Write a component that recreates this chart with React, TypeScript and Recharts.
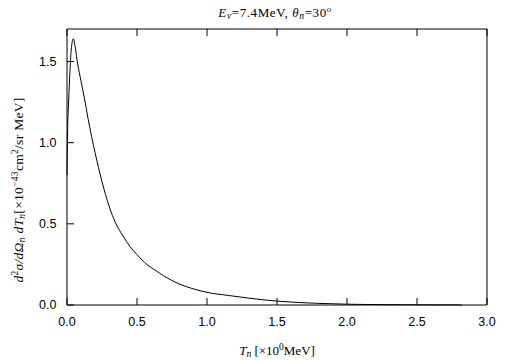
import { LineChart, Line, XAxis, YAxis } from "recharts";

// neutron kinetic energy T_n [MeV]
const tn = [
  0, 0.005, 0.01, 0.02, 0.03, 0.045, 0.06, 0.075, 0.1, 0.125, 0.15, 0.175,
  0.2, 0.25, 0.3, 0.35, 0.4, 0.45, 0.5, 0.57, 0.62, 0.69, 0.8, 0.9, 1.0,
  1.16, 1.3, 1.5, 1.8, 2.0, 2.3, 2.6, 2.82,
];
// d2sigma / dOmega dT  [1e-43 cm2/sr MeV]
const xsec = [
  0.8, 1.1, 1.22, 1.42, 1.57, 1.64, 1.58, 1.49, 1.38, 1.27, 1.15, 1.04,
  0.94, 0.76, 0.61, 0.5, 0.425, 0.36, 0.31, 0.25, 0.22, 0.18, 0.13, 0.1,
  0.078, 0.058, 0.042, 0.024, 0.01, 0.005, 0.002, 0.001, 0,
];

const xTicks = [0, 0.5, 1, 1.5, 2, 2.5, 3];
const yTicks = [0, 0.5, 1, 1.5];

const data = tn.map((t, i) => ({ tn: t, xs: xsec[i] }));

const tickFont = { fontFamily: "'Liberation Sans', Arial, sans-serif", fontSize: 12.5, fill: "#000" };
const serif = "'Liberation Serif', 'Times New Roman', serif";
const fmt = (v: number) => v.toFixed(1);

export default function App() {
  return (
    <div style={{ position: "absolute", left: 0, top: 0, width: 505, height: 361, background: "#fff" }}>
      <LineChart width={505} height={361} data={data} margin={{ top: 29, right: 18, bottom: 56, left: 67 }}>
        <XAxis
          xAxisId="b"
          dataKey="tn"
          type="number"
          domain={[0, 3]}
          ticks={xTicks}
          interval={0}
          height={1}
          mirror
          tickSize={7}
          tickMargin={-28}
          stroke="#000"
          tickFormatter={fmt}
          tick={tickFont}
        />
        <XAxis
          xAxisId="t"
          orientation="top"
          dataKey="tn"
          type="number"
          domain={[0, 3]}
          ticks={xTicks}
          interval={0}
          height={1}
          mirror
          tickSize={7}
          stroke="#000"
          tickFormatter={() => ""}
        />
        <YAxis
          yAxisId="l"
          type="number"
          domain={[0, 1.7]}
          ticks={yTicks}
          interval={0}
          width={1}
          mirror
          tickSize={7}
          tickMargin={-17.5}
          stroke="#000"
          tickFormatter={fmt}
          tick={{ ...tickFont, textAnchor: "end" }}
        />
        <YAxis
          yAxisId="r"
          orientation="right"
          type="number"
          domain={[0, 1.7]}
          ticks={yTicks}
          interval={0}
          width={1}
          mirror
          tickSize={7}
          stroke="#000"
          tickFormatter={() => ""}
        />
        <Line
          xAxisId="b"
          yAxisId="l"
          dataKey="xs"
          type="monotone"
          stroke="#000"
          strokeWidth={1}
          dot={false}
          isAnimationActive={false}
        />
      </LineChart>
      <svg width={505} height={361} style={{ position: "absolute", left: 0, top: 0, pointerEvents: "none" }}>
        <text x={275} y={17} textAnchor="middle" fontFamily={serif} fontSize={13} letterSpacing={0.6} fill="#000">
          <tspan fontStyle="italic">E</tspan>
          <tspan fontStyle="italic" fontSize={9.5} dy={2}>ν</tspan>
          <tspan dy={-2}>=7.4MeV,  </tspan>
          <tspan fontStyle="italic">θ</tspan>
          <tspan fontStyle="italic" fontSize={9.5} dy={2}>n</tspan>
          <tspan dy={-2}>=30</tspan>
          <tspan fontStyle="italic" fontSize={8.5} dy={-5}>o</tspan>
        </text>
        <text x={277} y={355} textAnchor="middle" fontFamily={serif} fontSize={13} fill="#000">
          <tspan fontStyle="italic">T</tspan>
          <tspan fontStyle="italic" fontSize={9.5} dy={2}>n</tspan>
          <tspan dy={-2}> [×10</tspan>
          <tspan fontSize={9.5} dy={-5}>0</tspan>
          <tspan dy={5}>MeV]</tspan>
        </text>
        <text
          transform="translate(23,190) rotate(-90)"
          x={0}
          y={0}
          textAnchor="middle"
          fontFamily={serif}
          fontSize={13.5}
          letterSpacing={0.3}
          fill="#000"
        >
          <tspan fontStyle="italic">d</tspan>
          <tspan fontSize={9.5} dy={-5}>2</tspan>
          <tspan fontStyle="italic" dy={5}>σ/d</tspan>
          <tspan fontStyle="italic">Ω</tspan>
          <tspan fontStyle="italic" fontSize={9.5} dy={2}>n</tspan>
          <tspan fontStyle="italic" dy={-2}>  dT</tspan>
          <tspan fontStyle="italic" fontSize={9.5} dy={2}>n</tspan>
          <tspan dy={-2}>[×10</tspan>
          <tspan fontSize={9.5} dy={-5}>−43</tspan>
          <tspan dy={5}>cm</tspan>
          <tspan fontSize={9.5} dy={-5}>2</tspan>
          <tspan dy={5}>/sr MeV]</tspan>
        </text>
      </svg>
    </div>
  );
}
